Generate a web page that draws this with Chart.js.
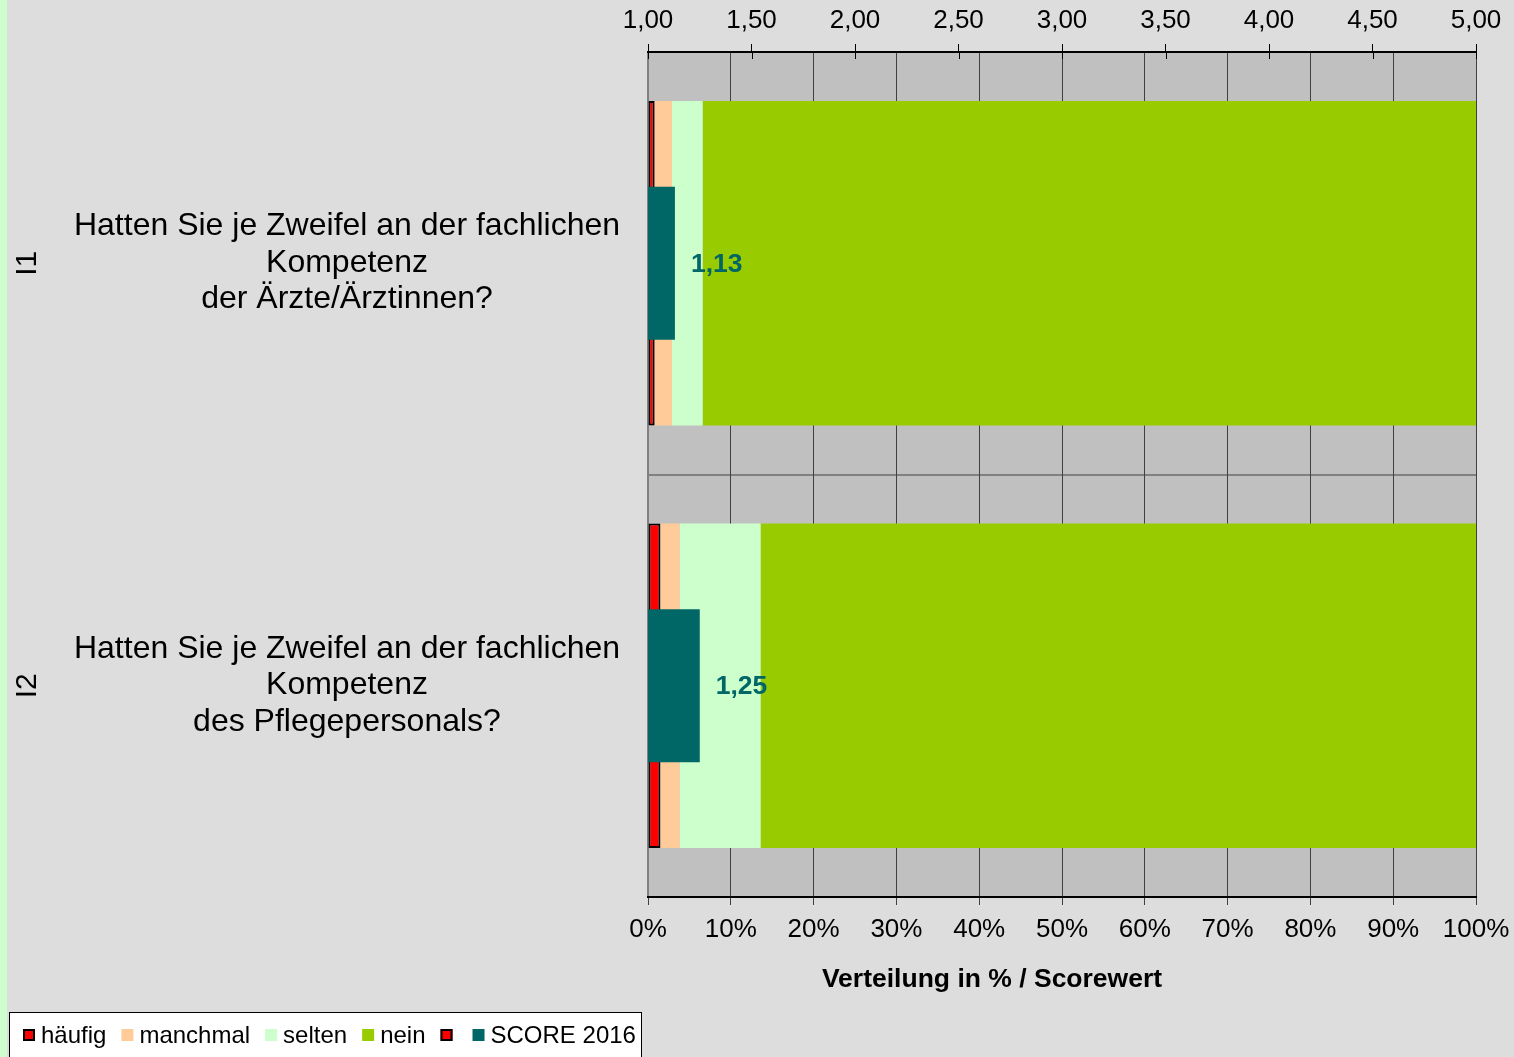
<!DOCTYPE html>
<html>
<head>
<meta charset="utf-8">
<script src="https://cdn.jsdelivr.net/npm/chart.js@4/dist/chart.umd.min.js"></script>
<style>
  html, body { margin: 0; padding: 0; background: #DDDDDD; overflow: hidden; }
  #grafica { display: block; }
</style>
</head>
<body>
<canvas id="grafica" width="1514" height="1057"></canvas>
<script>
// datos
var categorias = ['I1', 'I2'];
var preguntas = [
  ['Hatten Sie je Zweifel an der fachlichen', 'Kompetenz', 'der Ärzte/Ärztinnen?'],
  ['Hatten Sie je Zweifel an der fachlichen', 'Kompetenz', 'des Pflegepersonals?']
];
var haeufig = [0.8, 1.5];
var manchmal = [2.1, 2.3];
var selten = [3.7, 9.8];
var nein = [93.4, 86.4];
var score2016 = [1.13, 1.25];
var ticksProzent = [0, 10, 20, 30, 40, 50, 60, 70, 80, 90, 100];
var ticksScore = [1, 1.5, 2, 2.5, 3, 3.5, 4, 4.5, 5];

var fuente = 'Liberation Sans, Arial, sans-serif';
Chart.defaults.font.family = fuente;
Chart.defaults.font.size = 26;
Chart.defaults.color = '#000000';

function coma(v, d) { return v.toFixed(d).replace('.', ','); }

// leyenda (incluye la entrada vacia del original)
var leyenda = [
  { texto: 'häufig', color: '#FF0000', borde: true },
  { texto: 'manchmal', color: '#FFCC99', borde: false },
  { texto: 'selten', color: '#CCFFCC', borde: false },
  { texto: 'nein', color: '#99CC00', borde: false },
  { texto: '', color: '#FF0000', borde: true },
  { texto: 'SCORE 2016', color: '#006666', borde: false }
];

var extras = {
  id: 'extras',
  beforeDraw: function (chart) {
    var c = chart.ctx, a = chart.chartArea;
    c.save();
    c.fillStyle = '#DDDDDD';
    c.fillRect(0, 0, chart.width, chart.height);
    c.fillStyle = '#CCFFCC';
    c.fillRect(0, 0, 7, chart.height);
    c.fillStyle = '#C0C0C0';
    c.fillRect(a.left, a.top, a.right - a.left, a.bottom - a.top);
    c.restore();
  },
  afterDraw: function (chart) {
    var c = chart.ctx, a = chart.chartArea;
    var y = chart.scales.y, x2 = chart.scales.x2;
    c.save();
    // marcas del eje superior que cruzan la linea
    c.strokeStyle = '#000';
    c.lineWidth = 1;
    ticksScore.forEach(function (v) {
      var px = Math.round(x2.getPixelForValue(v)) + 0.5;
      c.beginPath();
      c.moveTo(px, a.top);
      c.lineTo(px, a.top + 7);
      c.stroke();
    });
    // etiquetas de las preguntas
    c.fillStyle = '#000';
    c.font = '32px ' + fuente;
    c.textAlign = 'center';
    c.textBaseline = 'middle';
    for (var i = 0; i < categorias.length; i++) {
      var yc = y.getPixelForValue(i);
      var lineas = preguntas[i];
      for (var j = 0; j < lineas.length; j++) {
        c.fillText(lineas[j], 347, yc - 37 + j * 36.5);
      }
      c.save();
      c.font = '30px ' + fuente;
      c.translate(28, yc);
      c.rotate(-Math.PI / 2);
      c.fillText(categorias[i], 0, 0);
      c.restore();
    }
    // valores del score
    var meta = chart.getDatasetMeta(0);
    c.font = 'bold 26.5px ' + fuente;
    c.fillStyle = '#006666';
    c.textAlign = 'left';
    meta.data.forEach(function (bar, k) {
      c.fillText(coma(score2016[k], 2), bar.x + 16, bar.y + 1);
    });
    // titulo del eje
    c.fillStyle = '#000';
    c.textAlign = 'center';
    c.fillText('Verteilung in % / Scorewert', 992, 980);
    // leyenda
    c.fillStyle = '#FFFFFF';
    c.fillRect(9, 1012, 633, 50);
    c.strokeStyle = '#000';
    c.lineWidth = 1;
    c.strokeRect(9.5, 1012.5, 632, 50);
    c.font = '24px ' + fuente;
    c.textAlign = 'left';
    var x = 23;
    leyenda.forEach(function (it) {
      c.fillStyle = it.color;
      c.fillRect(x, 1029, 12, 12);
      if (it.borde) {
        c.strokeStyle = '#000';
        c.lineWidth = 2;
        c.strokeRect(x + 1, 1030, 10, 10);
      }
      if (it.texto) {
        c.fillStyle = '#000';
        c.fillText(it.texto, x + 18, 1036);
        x += 18 + c.measureText(it.texto).width + 15;
      } else {
        x += 32;
      }
    });
    c.restore();
  }
};

var ctx = document.getElementById('grafica').getContext('2d');
var grafica = new Chart(ctx, {
  type: 'bar',
  data: {
    labels: categorias,
    datasets: [
      { label: 'SCORE 2016', data: score2016, xAxisID: 'x2', backgroundColor: '#006666',
        grouped: false, order: 0, barPercentage: 0.362, categoryPercentage: 1 },
      { label: 'häufig', data: haeufig, xAxisID: 'x', backgroundColor: '#FF0000',
        borderColor: '#000000', borderWidth: 2, borderSkipped: false, order: 1,
        barPercentage: 0.768, categoryPercentage: 1 },
      { label: 'manchmal', data: manchmal, xAxisID: 'x', backgroundColor: '#FFCC99', order: 1,
        barPercentage: 0.768, categoryPercentage: 1 },
      { label: 'selten', data: selten, xAxisID: 'x', backgroundColor: '#CCFFCC', order: 1,
        barPercentage: 0.768, categoryPercentage: 1 },
      { label: 'nein', data: nein, xAxisID: 'x', backgroundColor: '#99CC00', order: 1,
        barPercentage: 0.768, categoryPercentage: 1 }
    ]
  },
  options: {
    indexAxis: 'y',
    responsive: false,
    animation: false,
    maintainAspectRatio: false,
    layout: { padding: { left: 0, right: 38, top: 0, bottom: 0 } },
    plugins: { legend: { display: false }, tooltip: { enabled: false } },
    scales: {
      y: {
        stacked: true,
        offset: true,
        ticks: { display: false },
        grid: { offset: true, color: '#808080', lineWidth: 2, drawTicks: false },
        border: { color: '#808080', width: 2 },
        afterFit: function (s) { s.width = 648; }
      },
      x: {
        position: 'bottom',
        stacked: true,
        min: 0, max: 100,
        afterBuildTicks: function (s) { s.ticks = ticksProzent.map(function (v) { return { value: v }; }); },
        ticks: { padding: 9, callback: function (v) { return v + '%'; } },
        grid: { color: '#404040', lineWidth: 1, tickLength: 8 },
        border: { color: '#000000', width: 2 },
        afterFit: function (s) { s.height = 160; s.paddingLeft = 0; s.paddingRight = 0; }
      },
      x2: {
        position: 'top',
        min: 1, max: 5,
        afterBuildTicks: function (s) { s.ticks = ticksScore.map(function (v) { return { value: v }; }); },
        ticks: { padding: 8, callback: function (v) { return coma(v, 2); } },
        grid: { drawOnChartArea: false, color: '#000000', lineWidth: 1, tickLength: 8 },
        border: { color: '#000000', width: 2 },
        afterFit: function (s) { s.height = 52; s.paddingLeft = 0; s.paddingRight = 0; }
      }
    }
  },
  plugins: [extras]
});
</script>
</body>
</html>
